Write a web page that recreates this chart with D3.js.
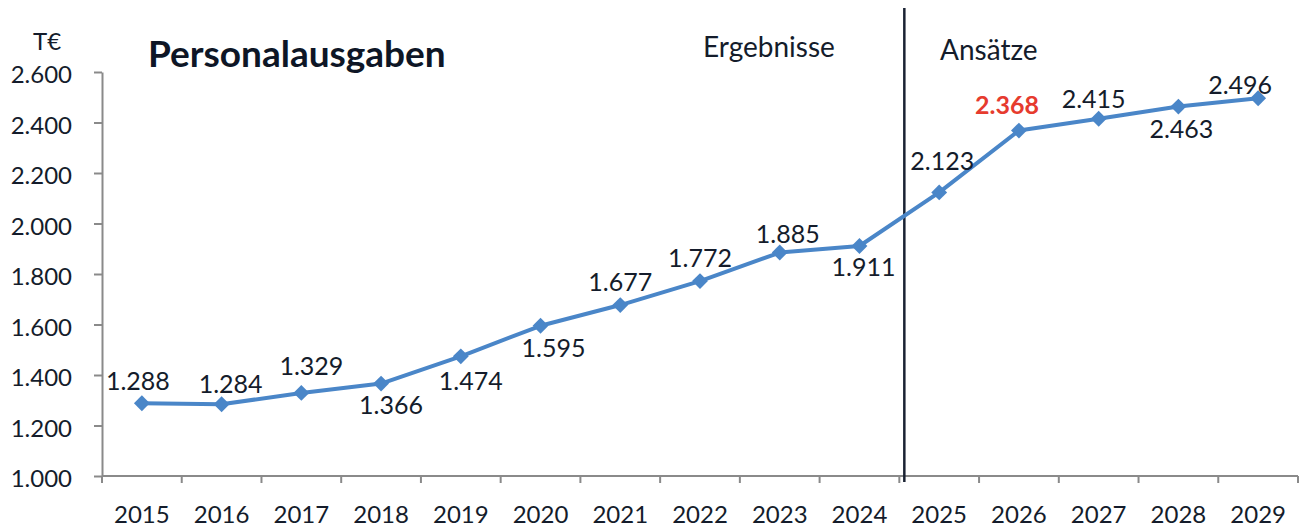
<!DOCTYPE html>
<html>
<head>
<meta charset="utf-8">
<script src="https://cdn.jsdelivr.net/npm/d3@7"></script>
<style>
  html, body { margin: 0; padding: 0; background: #fff; }
  svg { display: block; font-family: Lato, "Open Sans", sans-serif; }
</style>
</head>
<body>
<svg id="chart" width="1300" height="527"></svg>
<script>
// ---- data ----
const years = ["2015","2016","2017","2018","2019","2020","2021","2022","2023","2024","2025","2026","2027","2028","2029"];
const values = [1288, 1284, 1329, 1366, 1474, 1595, 1677, 1772, 1885, 1911, 2123, 2368, 2415, 2463, 2496];
const yTicks = [1000, 1200, 1400, 1600, 1800, 2000, 2200, 2400, 2600];
const highlightYear = "2026";
const splitYear = "2025";
const title = "Personalausgaben";
const unitLabel = "T€";
const leftSection = "Ergebnisse";
const rightSection = "Ansätze";

// ---- layout (label placement relative to each point) ----
const labelDx = [-4, 9, 10, 10, 10, 13, 0, 0, 8, 4, 3, -12, -5, 3, -18];
const labelDy = [-13, -11, -18, 30, 34, 31, -14, -14, -10, 30, -22, -17, -11, 31, -4];

const svg = d3.select("#chart");
const textColor = "#141c2b";
const axisColor = "#8a8a8a";
const lineColor = "#4a86c8";

const x = d3.scaleBand().domain(years).range([102, 1298]).padding(0);
const y = d3.scaleLinear().domain([1000, 2600]).range([476, 72]);

const de = d3.formatLocale({decimal: ",", thousands: ".", grouping: [3], currency: ["", " €"]});
const fmt = de.format(",d");

// y axis
const gy = svg.append("g").attr("transform", "translate(102,0)")
  .call(d3.axisLeft(y).tickValues(yTicks).tickFormat(fmt).tickSize(8).tickSizeOuter(0).tickPadding(22));
gy.select(".domain").attr("stroke", axisColor).attr("stroke-width", 2);
gy.selectAll(".tick line").attr("stroke", axisColor).attr("stroke-width", 2);
gy.selectAll(".tick text").attr("fill", textColor).attr("font-size", 24)
  .attr("font-family", "Lato, sans-serif").attr("dy", "0.45em");

// x axis (labels centred in bands, ticks on band boundaries)
const gx = svg.append("g").attr("transform", "translate(0,476)")
  .call(d3.axisBottom(x).tickSize(0).tickPadding(30));
gx.select(".domain").remove();
gx.selectAll(".tick text").attr("fill", textColor).attr("font-size", 24)
  .attr("font-family", "Lato, sans-serif");
svg.append("line").attr("x1", x.range()[0]).attr("x2", x.range()[1])
  .attr("y1", 476).attr("y2", 476).attr("stroke", axisColor).attr("stroke-width", 2);
const bounds = years.map(d => x(d)).concat([x.range()[1]]);
svg.append("g").selectAll("line").data(bounds).join("line")
  .attr("x1", d => d).attr("x2", d => d)
  .attr("y1", 476).attr("y2", 483)
  .attr("stroke", axisColor).attr("stroke-width", 2);

// split line between Ergebnisse and Ansätze
const splitX = x(splitYear) + 5;
svg.append("line").attr("x1", splitX).attr("x2", splitX)
  .attr("y1", 8).attr("y2", 482).attr("stroke", "#1a2233").attr("stroke-width", 2.5);

// line
const cx = d => x(d) + x.bandwidth() / 2;
const line = d3.line().x((d, i) => cx(years[i])).y(d => y(d));
svg.append("path").datum(values).attr("d", line)
  .attr("fill", "none").attr("stroke", lineColor).attr("stroke-width", 4)
  .attr("stroke-linejoin", "round");

// diamond markers
svg.append("g").selectAll("path").data(values).join("path")
  .attr("d", d3.symbol(d3.symbolDiamond2, 160))
  .attr("transform", (d, i) => `translate(${cx(years[i])},${y(d)})`)
  .attr("fill", lineColor);

// value labels
svg.append("g").selectAll("text").data(values).join("text")
  .attr("x", (d, i) => cx(years[i]) + labelDx[i])
  .attr("y", (d, i) => y(d) + labelDy[i])
  .attr("text-anchor", "middle")
  .attr("font-size", 25)
  .attr("font-weight", (d, i) => years[i] === highlightYear ? 700 : 400)
  .attr("fill", (d, i) => years[i] === highlightYear ? "#e63b2e" : textColor)
  .text(d => fmt(d));

// texts
svg.append("text").attr("x", 47).attr("y", 50).attr("text-anchor", "middle")
  .attr("font-size", 24).attr("fill", textColor).text(unitLabel);
svg.append("text").attr("x", 148).attr("y", 67)
  .attr("font-size", 37).attr("font-weight", 700).attr("fill", "#0e1626").text(title);
svg.append("text").attr("x", 703).attr("y", 57)
  .attr("font-size", 28).attr("fill", textColor).text(leftSection);
svg.append("text").attr("x", 940).attr("y", 60)
  .attr("font-size", 28).attr("fill", textColor).text(rightSection);
</script>
</body>
</html>
